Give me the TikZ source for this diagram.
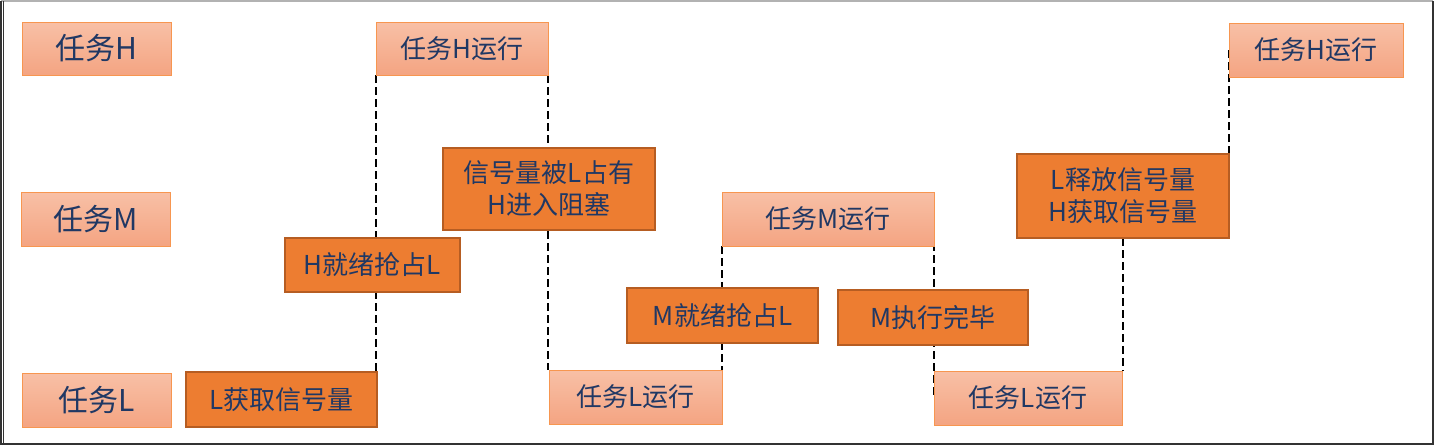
\documentclass[tikz,border=0pt]{standalone}
\usepackage{fontspec}
\setmainfont{Noto Sans CJK SC}
\usetikzlibrary{backgrounds}
\definecolor{txtblue}{RGB}{32,56,100}
\definecolor{lighttop}{RGB}{248,192,166}
\definecolor{lightbot}{RGB}{244,164,130}
\definecolor{lightline}{RGB}{247,150,80}
\definecolor{darkfill}{RGB}{237,125,49}
\definecolor{darkline}{RGB}{182,93,34}
\begin{document}
\begin{tikzpicture}
         [x=1pt,y=-1pt,
          every node/.style={inner sep=0pt,outer sep=0pt,align=center,text=txtblue,font=\fontsize{26}{32}\selectfont},
          lightbox/.style={draw=lightline,line width=1pt,top color=lighttop,bottom color=lightbot},
          darkbox/.style={draw=darkline,line width=2pt,fill=darkfill},
          stepline/.style={black,line width=2.4pt,dash pattern=on 8pt off 4pt}]
         \useasboundingbox (0,0) rectangle (1436,447);
         \draw[gray!60,line width=1.5pt] (1,1) -- (1433,1);
         \draw[black!80,line width=1.5pt] (1433,1) -- (1433,444) -- (1,444) -- (1,1);
         \draw[black!80,line width=1pt] (3.5,1) -- (3.5,444);

         \node[lightbox,minimum width=149pt,minimum height=53pt,font=\fontsize{30}{36}\selectfont] (nTaskH) at (96.5,48.5) {任务H};
         \node[lightbox,minimum width=149pt,minimum height=54pt,font=\fontsize{30}{36}\selectfont] (nTaskM) at (95.5,219) {任务M};
         \node[lightbox,minimum width=149pt,minimum height=54pt,font=\fontsize{30}{36}\selectfont] (nTaskL) at (96.5,400) {任务L};

         \node[lightbox,minimum width=172pt,minimum height=53pt] (nHRunA) at (462,48.5) {任务H运行};
         \node[lightbox,minimum width=212pt,minimum height=54pt] (nMRun) at (828,219) {任务M运行};
         \node[lightbox,minimum width=173pt,minimum height=54pt] (nLRunA) at (635.5,397) {任务L运行};
         \node[lightbox,minimum width=188pt,minimum height=54pt] (nLRunB) at (1028,398) {任务L运行};
         \node[lightbox,minimum width=174pt,minimum height=54pt] (nHRunB) at (1316,50) {任务H运行};

         \node[darkbox,minimum width=191pt,minimum height=55pt] (nLGet) at (281.5,399.5) {L获取信号量};
         \node[darkbox,minimum width=175pt,minimum height=54pt] (nHReady) at (372.5,265) {H就绪抢占L};
         \node[darkbox,minimum width=212pt,minimum height=82pt] (nBlock) at (549,189) {信号量被L占有\\H进入阻塞};
         \node[darkbox,minimum width=191pt,minimum height=55pt] (nMReady) at (722.5,315.5) {M就绪抢占L};
         \node[darkbox,minimum width=190pt,minimum height=55pt] (nMDone) at (933,317.5) {M执行完毕};
         \node[darkbox,minimum width=212pt,minimum height=84pt] (nRelease) at (1123,196) {L释放信号量\\H获取信号量};

         \begin{scope}[on background layer]
         \foreach \from/\to in {nHRunA.south west/nLGet.north east,nHRunA.south east/nLRunA.north west,nMRun.south west/nLRunA.north east,nMRun.east/nLRunB.west,nRelease.south/nLRunB.north east,nRelease.north east/nHRunB.west}
             \draw[stepline] (\from) -- (\from |- \to);
         \end{scope}

     \end{tikzpicture}
\end{document}
